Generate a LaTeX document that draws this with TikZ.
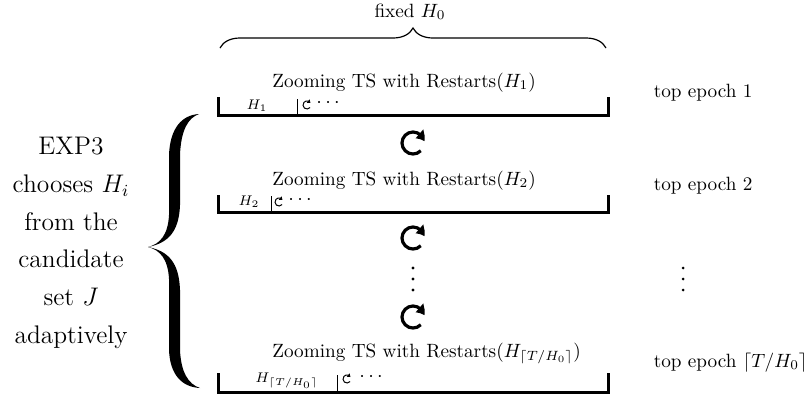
\documentclass[tikz,border=0pt]{standalone}
\usetikzlibrary{arrows.meta,bending,decorations.pathreplacing}
\tikzset{epochline/.style = {line width=1.5pt},
         epochtext/.style = {anchor=base west, inner sep=1pt, scale=0.96, transform shape},
         sidetext/.style = {anchor=base west, scale=0.96, transform shape},
         bigloop/.style = {line width=1.6pt, -{Triangle[length=4.5pt,width=5.5pt,bend]}},
         smallloop/.style = {line width=0.5pt, -{Triangle[length=1.5pt,width=2.2pt]}},
         sublabel/.style = {font=\scriptsize}}

\begin{document}
\begin{tikzpicture}[x=0.5pt, y=0.5pt]
\useasboundingbox (0,0) rectangle (806,-398);
% fixed H_0 brace
\draw [decorate, decoration={brace, amplitude=10pt}, line width=0.6pt] (220,-48) -- (606,-48);
\node [anchor=base, scale=0.96, transform shape] (fixed) at (410,-17) {fixed $H_0$};
% top epoch 1
\node [epochtext] (zts1) at (270,-87) {Zooming TS with Restarts($H_1$)};
\draw [epochline] (218,-97) -- (218,-115) -- (608,-115) -- (608,-97);
\draw (297,-99) -- (297,-115);
\node [sublabel] (h1) at (257,-106) {$H_1$};
\draw [smallloop] (307,-105) ++(-40:4) arc[start angle=-40, end angle=-330, radius=4];
\node [anchor=west, inner sep=0pt] (dots1) at (316,-103) {$\cdots$};
\node [sidetext] (top1) at (647,-97) {top epoch 1};
% top epoch 2
\node [epochtext] (zts2) at (270,-185) {Zooming TS with Restarts($H_2$)};
\draw [epochline] (218,-195) -- (218,-212) -- (608,-212) -- (608,-195);
\draw (271,-196) -- (271,-212);
\node [sublabel] (h2) at (249,-202) {$H_2$};
\draw [smallloop] (279,-202) ++(-40:4) arc[start angle=-40, end angle=-330, radius=4];
\node [anchor=west, inner sep=0pt] (dots2) at (288,-200) {$\cdots$};
\node [sidetext] (top2) at (647,-190) {top epoch 2};
% last top epoch
\node [epochtext] (zts3) at (270,-357) {Zooming TS with Restarts($H_{\lceil T/H_0\rceil}$)};
\draw [epochline] (218,-373) -- (218,-392) -- (608,-392) -- (608,-373);
\draw (337,-375) -- (337,-392);
\node [sublabel] (h3) at (287,-381) {$H_{\lceil T/H_0\rceil}$};
\draw [smallloop] (347,-379) ++(-40:4) arc[start angle=-40, end angle=-330, radius=4];
\node [anchor=west, inner sep=0pt] (dots3) at (359,-377) {$\cdots$};
\node [sidetext] (top3) at (647,-367) {top epoch $\lceil T/H_0\rceil$};
% restarts between the epochs
\foreach \y in {143,238,317}
  \draw [bigloop] (413,-\y) ++(-45:11) arc[start angle=-45, end angle=-352, radius=11];
\foreach \y in {268,279,290} {
  \fill (413,-\y) circle (1.7);
  \fill (683,-\y) circle (1.5);
}
% EXP3 brace
\fill (199,-114) .. controls (182,-115) and (170,-128) .. (169,-155) -- (169,-215)
  .. controls (168,-235) and (160,-244) .. (148,-247)
  .. controls (160,-250) and (168,-259) .. (169,-279) -- (169,-350)
  .. controls (170,-375) and (182,-387) .. (200,-388)
  .. controls (188,-384) and (181,-372) .. (180,-350) -- (180,-290)
  .. controls (179,-262) and (168,-251) .. (148,-247)
  .. controls (168,-243) and (179,-232) .. (180,-205) -- (180,-155)
  .. controls (181,-130) and (188,-118) .. (199,-114) -- cycle;
\node [align=center, scale=1.06, transform shape, font=\fontsize{12}{17.8}\selectfont] (exp3) at (71,-243)
  {EXP3\\chooses $H_i$\\from the\\candidate\\set $J$\\adaptively};
\end{tikzpicture}
\end{document}
